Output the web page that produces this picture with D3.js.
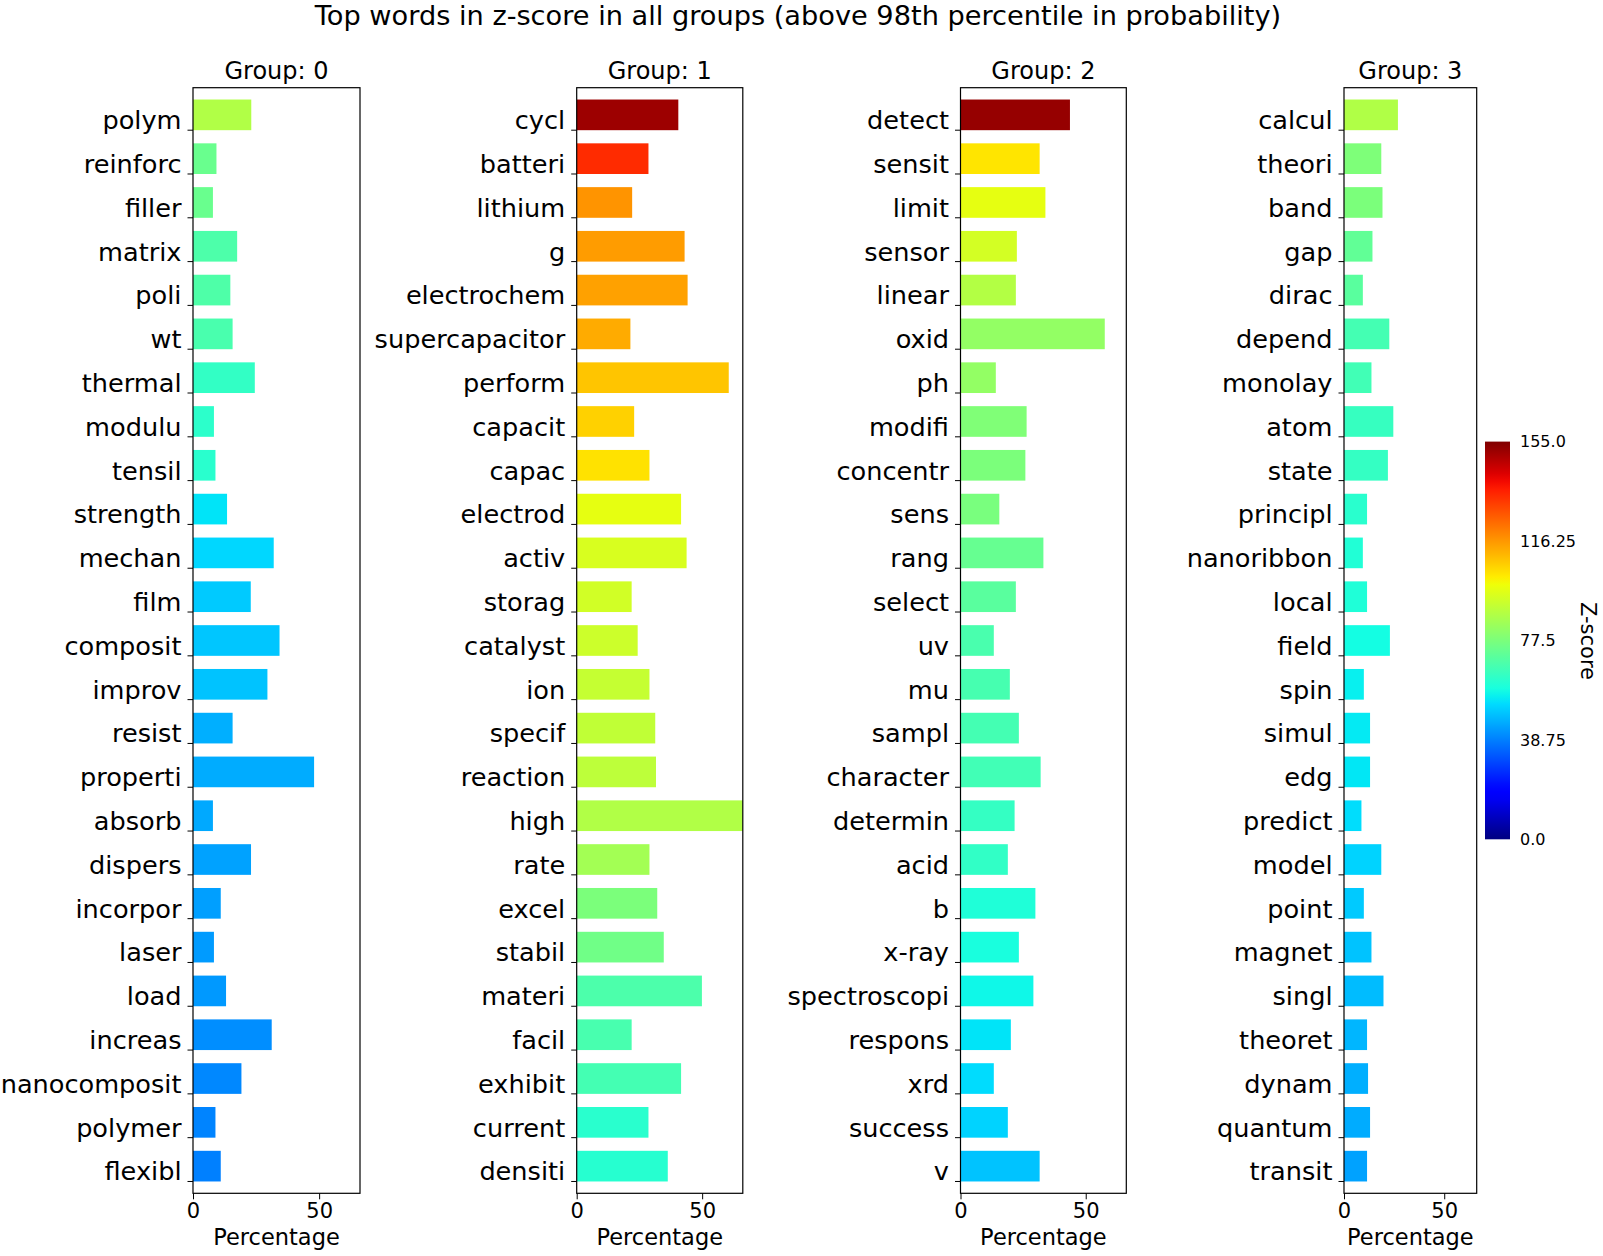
<!DOCTYPE html>
<html>
<head>
<meta charset="utf-8">
<script src="https://cdn.jsdelivr.net/npm/d3@7"></script>
<style>
  html, body { margin: 0; padding: 0; background: #fff; }
  svg { display: block; font-family: "DejaVu Sans", sans-serif; }
</style>
</head>
<body>
<svg id="chart" width="1603" height="1256"></svg>
<script>
// ---------------- DATA ----------------
const groupNames = ["Group: 0", "Group: 1", "Group: 2", "Group: 3"];

const words0 = ["polym","reinforc","filler","matrix","poli","wt","thermal","modulu","tensil","strength","mechan","film","composit","improv","resist","properti","absorb","dispers","incorpor","laser","load","increas","nanocomposit","polymer","flexibl"];
const pct0 = [23.1,9.3,7.9,17.5,14.8,15.7,24.5,8.3,8.9,13.5,32.0,22.9,34.3,29.5,15.7,48.0,7.9,23.0,11.0,8.3,13.1,31.2,19.2,8.9,11.0];
const z0 = [87.6,74,74,68.7,69,68,63.6,62.5,62,54,52,50,49.5,49,46,45.5,45,44,43.5,43,42.6,41,40,39.5,38.8];

const words1 = ["cycl","batteri","lithium","g","electrochem","supercapacitor","perform","capacit","capac","electrod","activ","storag","catalyst","ion","specif","reaction","high","rate","excel","stabil","materi","facil","exhibit","current","densiti"];
const pct1 = [40.5,28.6,22.1,43.0,44.2,21.4,60.6,22.9,29.0,41.6,43.8,21.9,24.3,29.0,31.3,31.6,68.0,29.0,32.1,34.7,49.9,21.9,41.6,28.6,36.3];
const z1 = [151,134,116.8,115.5,114.7,113,108.8,106.8,104,97.5,95,93.6,92.7,91.3,90.5,89.8,87.6,85,77.5,75.3,68.6,67.8,67,62,61.5];

const words2 = ["detect","sensit","limit","sensor","linear","oxid","ph","modifi","concentr","sens","rang","select","uv","mu","sampl","character","determin","acid","b","x-ray","spectroscopi","respons","xrd","success","v"];
const pct2 = [43.7,31.6,33.9,22.5,22.1,57.6,14.1,26.4,25.9,15.5,33.1,22.1,13.3,19.7,23.3,32.0,21.6,18.9,29.9,23.3,29.1,20.1,13.3,18.9,31.6];
const z2 = [152,103.4,97.6,94,88,82,82,78.3,77.5,77,73.5,71,68,67.5,67,66.5,64,63.5,60,59,57,54,52.8,51.5,49];

const words3 = ["calcul","theori","band","gap","dirac","depend","monolay","atom","state","principl","nanoribbon","local","field","spin","simul","edg","predict","model","point","magnet","singl","theoret","dynam","quantum","transit"];
const pct3 = [26.9,18.6,19.2,14.2,9.4,22.6,13.7,24.6,21.9,11.5,9.4,11.5,22.9,9.9,13.0,13.0,8.7,18.6,9.9,13.7,19.7,11.5,12.0,13.0,11.5];
const z3 = [87.5,78,77.5,72.5,71,67,66.5,64.5,64,62,60.5,60,58,55.8,55,54.5,53,51.5,50,49,48,47,46,45.5,44];

const xTicks = [0, 50];
const xMax = 66.2;
const zTicks = [0.0, 38.75, 77.5, 116.25, 155.0];
const zTickLabels = ["0.0", "38.75", "77.5", "116.25", "155.0"];
const zMax = 155;

const groups = [
  {name: groupNames[0], words: words0, pct: pct0, z: z0},
  {name: groupNames[1], words: words1, pct: pct1, z: z1},
  {name: groupNames[2], words: words2, pct: pct2, z: z2},
  {name: groupNames[3], words: words3, pct: pct3, z: z3}
];

// ---------------- JET COLORMAP ----------------
function seg(pts, t) {
  for (let i = 1; i < pts.length; i++) {
    if (t <= pts[i][0]) {
      const [x0, y0] = pts[i-1], [x1, y1] = pts[i];
      return y0 + (y1 - y0) * (t - x0) / (x1 - x0);
    }
  }
  return pts[pts.length-1][1];
}
const jR = [[0,0],[0.35,0],[0.66,1],[0.89,1],[1,0.5]];
const jG = [[0,0],[0.125,0],[0.375,1],[0.64,1],[0.91,0],[1,0]];
const jB = [[0,0.5],[0.11,1],[0.34,1],[0.65,0],[1,0]];
function jet(t) {
  t = Math.max(0, Math.min(1, t));
  return d3.rgb(255*seg(jR,t), 255*seg(jG,t), 255*seg(jB,t)).formatHex();
}
const color = d3.scaleLinear().domain([0, zMax]).range([0, 1]);

// ---------------- LAYOUT ----------------
const svg = d3.select("#chart");
const panelX = [[193, 360], [576.7, 742.8], [960.5, 1126.3], [1344, 1476.7]];
const axTop = 87.7, axBottom = 1193.3;

svg.append("text")
  .attr("x", 798).attr("y", 25)
  .attr("text-anchor", "middle")
  .attr("font-size", 27.2)
  .text("Top words in z-score in all groups (above 98th percentile in probability)");

const defs = svg.append("defs");

groups.forEach((g, gi) => {
  const [x0, x1] = panelX[gi];
  const x = d3.scaleLinear().domain([0, xMax]).range([x0, x1]);
  const y = d3.scaleBand().domain(g.words).range([axTop, axBottom]).paddingInner(0.3).paddingOuter(0.27);

  const clipId = "clip" + gi;
  defs.append("clipPath").attr("id", clipId)
    .append("rect").attr("x", x0).attr("y", axTop).attr("width", x1 - x0).attr("height", axBottom - axTop);

  const gp = svg.append("g");

  gp.append("g").attr("clip-path", `url(#${clipId})`)
    .selectAll("rect").data(g.words).join("rect")
    .attr("x", x(0))
    .attr("y", d => y(d))
    .attr("width", (d, i) => x(g.pct[i]) - x(0))
    .attr("height", y.bandwidth())
    .attr("fill", (d, i) => jet(color(g.z[i])));

  // y ticks at bar bottom
  const yt = gp.append("g");
  g.words.forEach(w => {
    const ty = y(w) + y.bandwidth();
    yt.append("line").attr("x1", x0 - 5.5).attr("x2", x0).attr("y1", ty).attr("y2", ty)
      .attr("stroke", "#000").attr("stroke-width", 1);
    yt.append("text").attr("x", x0 - 11.5).attr("y", ty - 1)
      .attr("text-anchor", "end").attr("font-size", 25.6).attr("fill", "#000").text(w);
  });

  // x axis
  const xa = gp.append("g").attr("transform", `translate(0,${axBottom})`)
    .call(d3.axisBottom(x).tickValues(xTicks).tickFormat(d3.format("d")).tickSize(6).tickPadding(4));
  xa.select(".domain").remove();
  xa.selectAll("text").attr("font-size", 21).attr("font-family", "DejaVu Sans").attr("fill", "#000");
  xa.selectAll("line").attr("stroke", "#000");

  // frame
  gp.append("rect").attr("x", x0).attr("y", axTop).attr("width", x1 - x0).attr("height", axBottom - axTop)
    .attr("fill", "none").attr("stroke", "#000").attr("stroke-width", 1.2);

  gp.append("text").attr("x", (x0 + x1) / 2).attr("y", 79)
    .attr("text-anchor", "middle").attr("font-size", 24).text(g.name);

  gp.append("text").attr("x", (x0 + x1) / 2).attr("y", 1245)
    .attr("text-anchor", "middle").attr("font-size", 22.5).text("Percentage");
});

// ---------------- COLORBAR ----------------
const cbX = 1485, cbW = 25, cbTop = 441.6, cbBottom = 839.3;
const grad = defs.append("linearGradient").attr("id", "jetgrad")
  .attr("x1", 0).attr("y1", 1).attr("x2", 0).attr("y2", 0);
d3.range(0, 1.0001, 0.02).forEach(t => {
  grad.append("stop").attr("offset", t).attr("stop-color", jet(t));
});
svg.append("rect").attr("x", cbX).attr("y", cbTop).attr("width", cbW).attr("height", cbBottom - cbTop)
  .attr("fill", "url(#jetgrad)");
const zScale = d3.scaleLinear().domain([0, zMax]).range([cbBottom, cbTop]);
const cba = svg.append("g").attr("transform", `translate(${cbX + cbW},0)`)
  .call(d3.axisRight(zScale).tickValues(zTicks).tickFormat((d, i) => zTickLabels[i]).tickSize(0).tickPadding(10));
cba.select(".domain").remove();
cba.selectAll("text").attr("font-size", 16).attr("font-family", "DejaVu Sans").attr("fill", "#000");

svg.append("text").attr("transform", `translate(1581, 641) rotate(90)`)
  .attr("text-anchor", "middle").attr("font-size", 21).text("Z-score");
</script>
</body>
</html>
